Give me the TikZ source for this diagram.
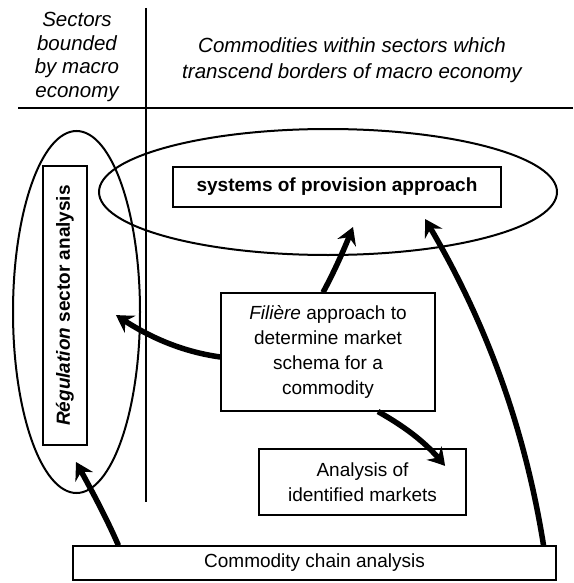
\documentclass[tikz,border=0pt]{standalone}
\usepackage{fontspec}
\setmainfont{Liberation Sans}
\usetikzlibrary{arrows.meta}
\usetikzlibrary{bending}
\usetikzlibrary{shapes.geometric}

\begin{document}
\begin{tikzpicture}[x=1pt,y=-1pt,
    box/.style={draw,line width=1.1pt,align=center,inner sep=0pt,font=\fontsize{19}{25}\selectfont},
    ring/.style={draw,ellipse,line width=2pt,inner sep=0pt},
    flow/.style={-{Stealth[length=17pt,width=20pt,inset=6pt,bend]},line width=5.5pt},
    head/.style={align=center,font=\fontsize{20.5}{23.5}\selectfont\itshape}]
  \useasboundingbox (0,0) rectangle (573,583);

  % Trennlinien
  \draw[line width=1.5pt] (146,8) -- (146,502);
  \draw[line width=1.5pt] (18,108) -- (573,108);

  % Kopf
  \node[head] (inside) at (77,57) {Sectors\\bounded\\by macro\\economy};
  \node[head,font=\fontsize{20.5}{26}\selectfont\itshape] (across) at (352,60)
    {Commodities within sectors which\\transcend borders of macro economy};

  % Ellipsen
  \node[ring,minimum width=458pt,minimum height=126pt] (sopring) at (328,192) {};
  \node[ring,minimum width=127pt,minimum height=362pt] (regring) at (76.5,312) {};

  % Kaesten
  \node[box,minimum width=328pt,minimum height=40pt] (sop) at (337,187)
    {\textbf{systems of provision approach}};
  \node[box,rotate=90,minimum width=279pt,minimum height=44pt] (reg) at (65,305.5)
    {\textbf{\textit{Régulation} sector analysis}};
  \node[box,minimum width=214pt,minimum height=118pt] (fil) at (328,352)
    {\textit{Filière} approach to\\determine market\\schema for a\\commodity};
  \node[box,minimum width=207pt,minimum height=66pt] (mkt) at (362.5,482)
    {Analysis of\\identified markets};
  \node[box,minimum width=483pt,minimum height=34pt] (chain) at (314.5,563)
    {Commodity chain analysis};

  % Pfeilspitzen
  \coordinate (sopin1) at (353,227);
  \coordinate (sopin2) at (425,219);
  \coordinate (regin1) at (116,315);
  \coordinate (regin2) at (76,462);
  \coordinate (mktin) at (445,466);

  % Pfeile
  \draw[flow] ([xshift=-5pt]fil.north) .. controls (334,272) and (344,250) .. (sopin1);
  \draw[flow] ([yshift=-5pt]fil.west) .. controls (184,352) and (149,338) .. (regin1);
  \draw[flow] ([xshift=50pt]fil.south) .. controls (400,424) and (426,441) .. (mktin);
  \draw[flow] ([xshift=46pt]chain.north west) .. controls (106,517) and (91,489) .. (regin2);
  \draw[flow] ([xshift=-13pt]chain.north east) .. controls (525,429) and (486,320) .. (sopin2);
\end{tikzpicture}
\end{document}
